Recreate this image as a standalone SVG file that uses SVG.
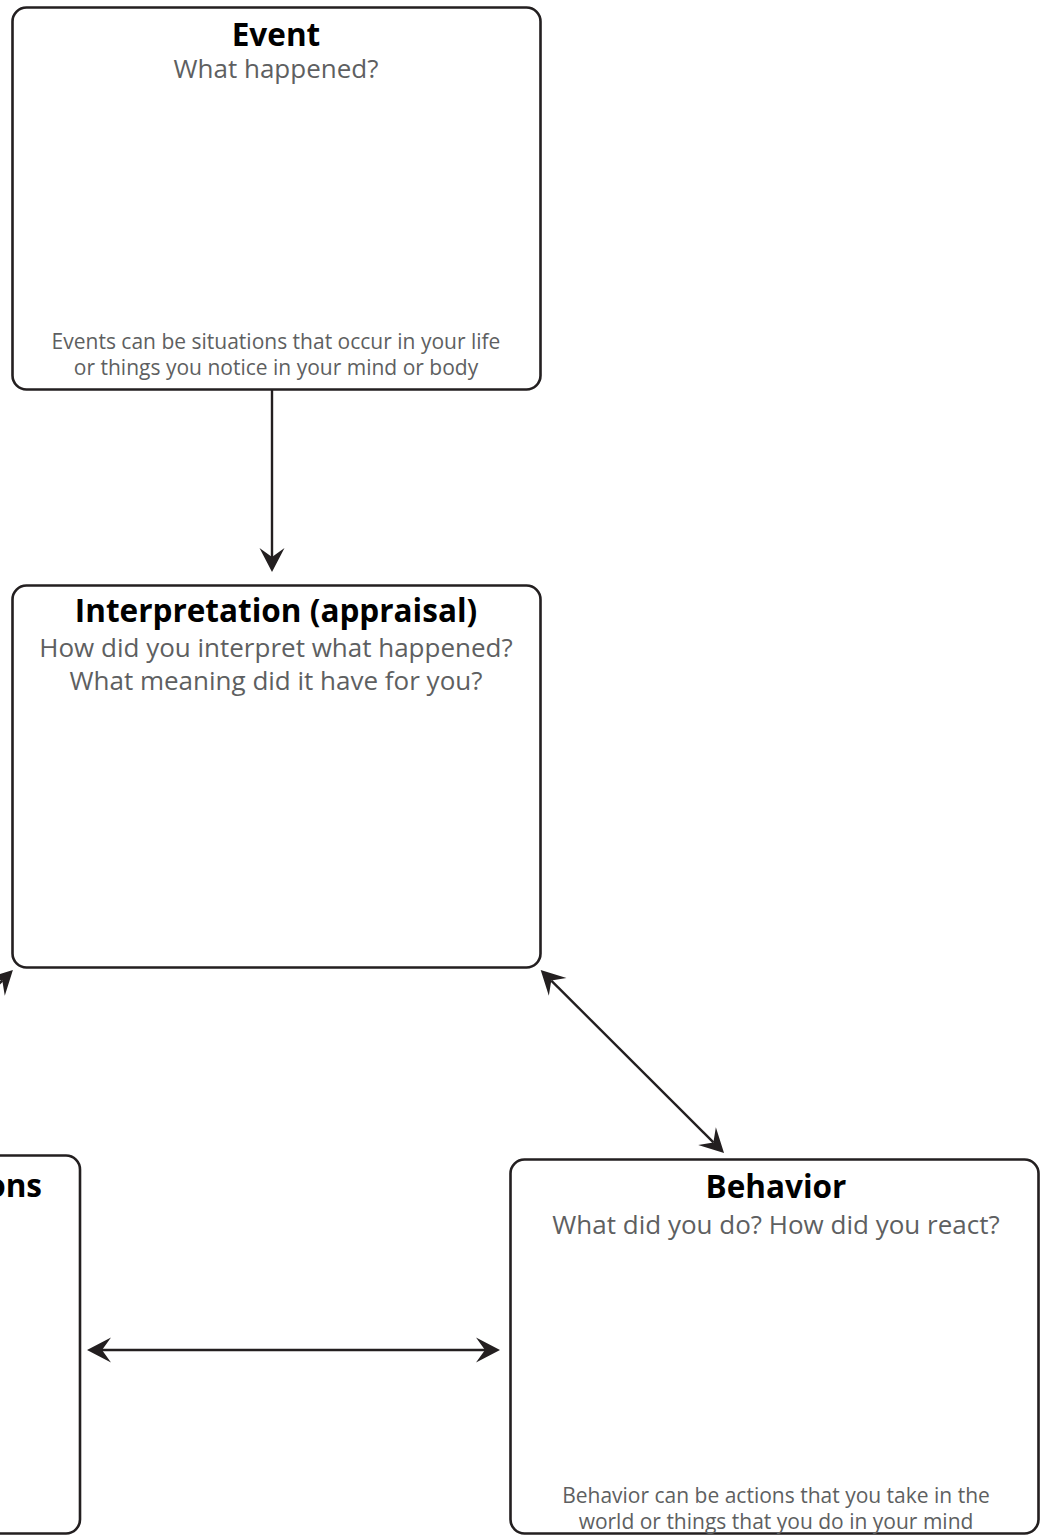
<svg xmlns="http://www.w3.org/2000/svg" width="1045" height="1538" viewBox="0 0 1045 1538">
  <style>
    .box { fill: #ffffff; stroke: #231f20; stroke-width: 2.6; }
    .title { font-family: "Open Sans", "Noto Sans", "Liberation Sans", sans-serif; font-weight: 700; font-size: 31.5px; fill: #000000; text-anchor: middle; }
    .sub { font-family: "Open Sans", "Noto Sans", "Liberation Sans", sans-serif; font-size: 26px; fill: #5e5f61; text-anchor: middle; }
    .note { font-family: "Open Sans", "Noto Sans", "Liberation Sans", sans-serif; font-size: 21px; fill: #5e5f61; text-anchor: middle; }
    .link { fill: none; stroke: #231f20; stroke-width: 2.4; }
  </style>
  <defs>
    <marker id="head" markerUnits="userSpaceOnUse" markerWidth="40" markerHeight="40" refX="0" refY="0" viewBox="-20 -20 40 40" orient="auto-start-reverse" overflow="visible">
      <path d="M15,0 L-9,-12.5 L0,0 L-9,12.5 Z" fill="#231f20"/>
    </marker>
  </defs>

  <rect width="1045" height="1538" fill="#ffffff"/>

  <g id="connectors">
    <!-- Event to Interpretation -->
    <line class="link" x1="272" y1="390" x2="272" y2="557" marker-end="url(#head)"/>
    <!-- Interpretation to Behavior -->
    <line class="link" x1="551.3" y1="980.6" x2="713.4" y2="1142.4" marker-start="url(#head)" marker-end="url(#head)"/>
    <!-- Emotions to Interpretation -->
    <line class="link" x1="-200" y1="1183" x2="2.3" y2="980.6" marker-end="url(#head)"/>
    <!-- Emotions to Behavior -->
    <line class="link" x1="102" y1="1350" x2="485" y2="1350" marker-start="url(#head)" marker-end="url(#head)"/>
  </g>

  <g id="node-event">
    <rect class="box" x="12.5" y="7.5" width="528" height="382" rx="14"/>
    <text class="title" x="276" y="46">Event</text>
    <text class="sub" x="276" y="78">What happened?</text>
    <text class="note" x="276" y="349">Events can be situations that occur in your life</text>
    <text class="note" x="276" y="375">or things you notice in your mind or body</text>
  </g>

  <g id="node-interpretation">
    <rect class="box" x="12.5" y="585.5" width="528" height="382" rx="14"/>
    <text class="title" x="276" y="622">Interpretation (appraisal)</text>
    <text class="sub" x="276" y="657">How did you interpret what happened?</text>
    <text class="sub" x="276" y="690">What meaning did it have for you?</text>
  </g>

  <g id="node-emotions">
    <rect class="box" x="-449" y="1155.5" width="529" height="378" rx="14"/>
    <text class="title" x="42" y="1197" style="text-anchor: end">Emotions</text>
  </g>

  <g id="node-behavior">
    <rect class="box" x="510.5" y="1159.5" width="528" height="374" rx="14"/>
    <text class="title" x="776" y="1198">Behavior</text>
    <text class="sub" x="776" y="1234">What did you do? How did you react?</text>
    <text class="note" x="776" y="1503">Behavior can be actions that you take in the</text>
    <text class="note" x="776" y="1529">world or things that you do in your mind</text>
  </g>
</svg>
